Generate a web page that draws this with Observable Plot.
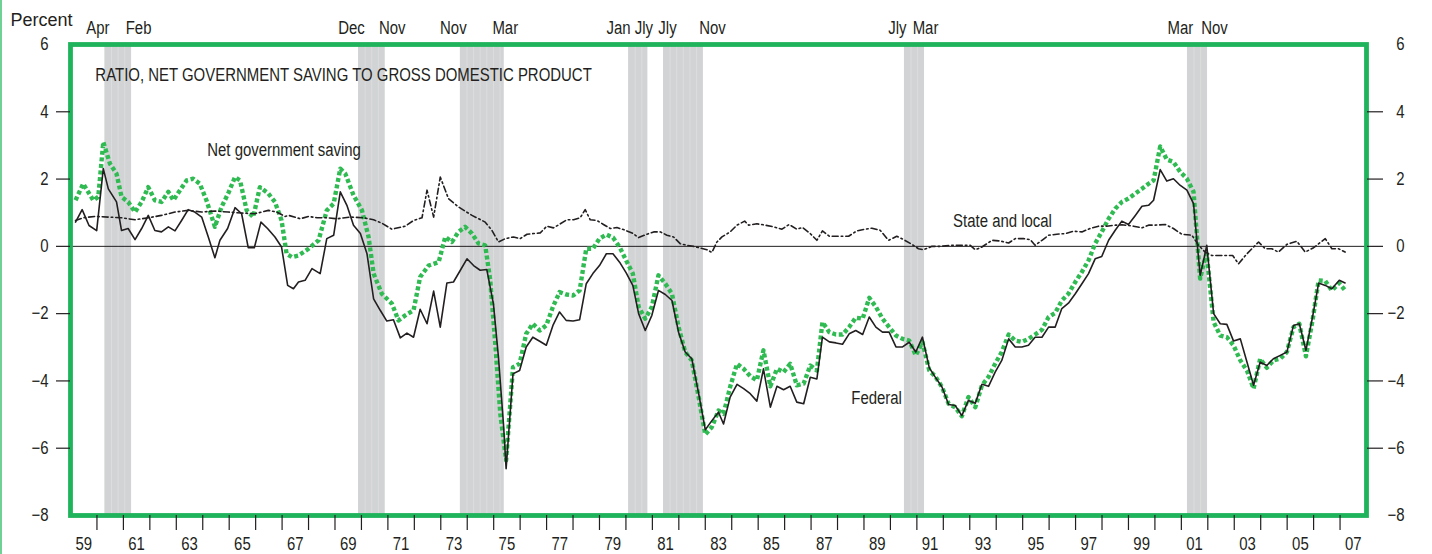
<!DOCTYPE html>
<html><head><meta charset="utf-8">
<script src="https://cdn.jsdelivr.net/npm/d3@7"></script>
<script src="https://cdn.jsdelivr.net/npm/@observablehq/plot@0.6"></script>
<style>
html,body{margin:0;padding:0;background:#fff;}
#wrap{position:relative;width:1432px;height:554px;overflow:hidden;}
#edge{position:absolute;left:0;top:0;width:2px;height:554px;background:#6fd193;z-index:2;}
</style></head>
<body><div id="wrap"><div id="edge"></div></div>
<script>
// ---- data (decimal years, percent of GDP) ----
const recessionStart = [1960.30, 1969.89, 1973.74, 1980.10, 1981.42, 1990.53, 2001.23];
const recessionEnd   = [1961.31, 1970.90, 1975.40, 1980.83, 1982.93, 1991.29, 2001.99];
const recessionFrom  = ["Apr", "Dec", "Nov", "Jan", "Jly", "Jly", "Mar"];
const recessionTo    = ["Feb", "Nov", "Mar", "Jly", "Nov", "Mar", "Nov"];

const yTickValues = [6, 4, 2, 0, -2, -4, -6, -8];
const yTickMarks = [4, 2, 0, -2, -4, -6];

const netSaving = [
[1959.19,1.37],[1959.48,1.86],[1959.86,1.37],[1960.05,1.47],[1960.24,3.10],[1960.49,2.46],[1960.74,2.16],[1960.93,1.47],
[1961.18,1.32],[1961.44,1.02],[1961.69,1.32],[1961.94,1.76],[1962.19,1.37],[1962.44,1.32],[1962.70,1.62],[1962.89,1.37],
[1963.14,1.67],[1963.39,1.96],[1963.64,2.01],[1963.89,1.86],[1964.14,1.37],[1964.46,0.58],[1964.71,1.17],[1964.96,1.57],
[1965.22,2.06],[1965.41,1.96],[1965.66,1.07],[1965.91,0.87],[1966.16,1.76],[1966.48,1.57],[1966.73,1.32],[1966.98,0.77],
[1967.17,-0.22],[1967.37,-0.32],[1967.62,-0.27],[1968.00,-0.07],[1968.38,0.18],[1968.69,1.07],[1968.95,1.27],[1969.20,2.31],
[1969.39,2.16],[1969.70,1.52],[1970.02,1.07],[1970.27,0.28],[1970.46,-0.81],[1970.77,-1.41],[1971.15,-1.70],[1971.40,-2.20],
[1971.66,-2.05],[1971.97,-1.90],[1972.22,-0.91],[1972.54,-0.57],[1972.92,-0.47],[1973.17,0.28],[1973.42,0.13],[1973.67,0.43],
[1973.92,0.58],[1974.18,0.38],[1974.43,0.08],[1974.68,0.03],[1974.87,-1.01],[1975.06,-2.89],[1975.25,-4.98],[1975.47,-6.36],
[1975.73,-3.59],[1975.98,-3.49],[1976.23,-2.60],[1976.48,-2.30],[1976.74,-2.50],[1976.99,-2.35],[1977.24,-1.80],[1977.49,-1.36],
[1977.74,-1.43],[1978.00,-1.46],[1978.25,-1.31],[1978.50,-0.07],[1978.75,-0.07],[1979.00,0.23],[1979.26,0.35],[1979.51,0.26],
[1979.76,-0.02],[1980.01,-0.42],[1980.26,-0.81],[1980.48,-1.80],[1980.73,-2.15],[1980.98,-1.80],[1981.23,-0.86],[1981.49,-1.11],
[1981.74,-1.41],[1981.99,-2.40],[1982.24,-3.14],[1982.49,-3.39],[1982.75,-4.48],[1983.00,-5.59],[1983.25,-5.37],[1983.50,-4.88],
[1983.69,-4.98],[1983.94,-4.18],[1984.20,-3.49],[1984.45,-3.64],[1984.70,-3.86],[1984.95,-3.98],[1985.20,-3.09],[1985.46,-4.16],
[1985.71,-3.64],[1985.96,-3.74],[1986.21,-3.49],[1986.46,-4.13],[1986.72,-4.08],[1986.97,-3.54],[1987.22,-3.69],[1987.43,-2.25],
[1987.69,-2.55],[1987.94,-2.62],[1988.19,-2.62],[1988.44,-2.40],[1988.69,-2.12],[1988.95,-2.15],[1989.20,-1.53],[1989.45,-1.80],
[1989.70,-2.15],[1989.95,-2.40],[1990.21,-2.65],[1990.46,-2.75],[1990.71,-2.80],[1990.96,-3.24],[1991.21,-2.84],[1991.47,-3.69],
[1991.69,-3.86],[1991.95,-4.18],[1992.20,-4.68],[1992.45,-4.78],[1992.70,-5.05],[1992.95,-4.48],[1993.21,-4.78],[1993.46,-4.13],
[1993.71,-3.88],[1993.96,-3.49],[1994.21,-3.14],[1994.47,-2.62],[1994.72,-2.80],[1994.97,-2.84],[1995.22,-2.75],[1995.47,-2.62],
[1995.73,-2.48],[1995.98,-2.10],[1996.23,-1.98],[1996.48,-1.61],[1996.73,-1.41],[1996.99,-1.06],[1997.24,-0.76],[1997.49,-0.42],
[1997.74,0.08],[1997.99,0.43],[1998.25,0.82],[1998.50,1.12],[1998.75,1.32],[1999.00,1.42],[1999.26,1.57],[1999.51,1.71],
[1999.76,1.86],[1999.95,1.96],[2000.20,2.97],[2000.45,2.58],[2000.70,2.51],[2000.96,2.21],[2001.21,2.01],[2001.46,1.62],
[2001.71,-0.96],[2001.84,-0.52],[2001.96,-0.22],[2002.22,-2.25],[2002.47,-2.65],[2002.72,-2.70],[2002.97,-2.94],[2003.23,-3.39],
[2003.48,-3.69],[2003.73,-4.23],[2003.98,-3.34],[2004.23,-3.61],[2004.48,-3.39],[2004.74,-3.34],[2004.99,-3.14],[2005.24,-2.40],
[2005.46,-2.30],[2005.71,-3.27],[2005.96,-2.20],[2006.19,-1.01],[2006.44,-1.03],[2006.69,-1.31],[2006.97,-1.09],[2007.19,-1.31]
];

const federal = [
[1959.19,0.72],[1959.44,1.09],[1959.70,0.62],[1959.99,0.47],[1960.24,2.31],[1960.43,1.71],[1960.74,1.32],[1960.93,0.47],
[1961.18,0.53],[1961.44,0.20],[1961.69,0.53],[1961.94,0.92],[1962.19,0.47],[1962.44,0.43],[1962.70,0.58],[1962.95,0.46],
[1963.20,0.77],[1963.45,1.09],[1963.70,1.02],[1963.96,0.87],[1964.21,0.28],[1964.46,-0.34],[1964.65,0.18],[1964.94,0.53],
[1965.22,1.15],[1965.47,0.97],[1965.72,-0.04],[1965.95,-0.04],[1966.20,0.72],[1966.45,0.53],[1966.73,0.28],[1966.98,-0.02],
[1967.21,-1.16],[1967.43,-1.26],[1967.62,-1.06],[1967.87,-1.01],[1968.13,-0.66],[1968.44,-0.81],[1968.69,0.23],[1968.95,0.33],
[1969.20,1.62],[1969.45,1.22],[1969.70,0.63],[1969.96,0.38],[1970.21,-0.22],[1970.46,-1.56],[1970.71,-1.90],[1970.96,-2.22],
[1971.21,-2.18],[1971.47,-2.72],[1971.72,-2.58],[1971.97,-2.70],[1972.22,-1.87],[1972.48,-2.30],[1972.73,-1.33],[1972.98,-2.40],
[1973.23,-1.09],[1973.48,-1.06],[1973.74,-0.71],[1973.99,-0.37],[1974.24,-0.57],[1974.49,-0.71],[1974.74,-0.69],[1974.99,-1.71],
[1975.18,-3.29],[1975.37,-5.28],[1975.47,-6.61],[1975.73,-3.79],[1975.98,-3.69],[1976.23,-2.99],[1976.48,-2.70],[1976.74,-2.82],
[1976.99,-2.94],[1977.24,-2.35],[1977.49,-1.95],[1977.74,-2.20],[1978.00,-2.22],[1978.25,-2.18],[1978.50,-1.11],[1978.75,-0.81],
[1979.00,-0.57],[1979.26,-0.22],[1979.51,-0.22],[1979.76,-0.47],[1980.01,-0.79],[1980.26,-1.16],[1980.48,-2.00],[1980.73,-2.50],
[1980.98,-2.05],[1981.23,-1.31],[1981.49,-1.43],[1981.74,-1.61],[1981.99,-2.55],[1982.24,-3.14],[1982.49,-3.34],[1982.75,-4.38],
[1983.00,-5.45],[1983.25,-5.18],[1983.50,-4.93],[1983.69,-5.28],[1983.94,-4.48],[1984.20,-4.10],[1984.45,-4.23],[1984.70,-4.38],
[1984.95,-4.60],[1985.20,-3.64],[1985.46,-4.78],[1985.71,-4.16],[1985.96,-4.26],[1986.21,-4.16],[1986.46,-4.63],[1986.72,-4.68],
[1986.97,-3.89],[1987.22,-3.94],[1987.43,-2.70],[1987.69,-2.84],[1987.94,-2.87],[1988.19,-2.91],[1988.44,-2.60],[1988.69,-2.50],
[1988.95,-2.62],[1989.20,-2.10],[1989.45,-2.40],[1989.70,-2.55],[1989.95,-2.55],[1990.21,-2.99],[1990.46,-2.99],[1990.71,-2.85],
[1990.96,-3.14],[1991.21,-2.70],[1991.47,-3.61],[1991.69,-3.88],[1991.95,-4.18],[1992.20,-4.70],[1992.45,-4.73],[1992.70,-5.03],
[1992.95,-4.58],[1993.21,-4.66],[1993.46,-4.10],[1993.71,-4.16],[1993.96,-3.74],[1994.21,-3.39],[1994.47,-2.75],[1994.72,-2.99],
[1994.97,-2.99],[1995.22,-2.94],[1995.47,-2.70],[1995.73,-2.70],[1995.98,-2.40],[1996.23,-2.40],[1996.48,-1.85],[1996.73,-1.69],
[1996.99,-1.41],[1997.24,-1.11],[1997.49,-0.81],[1997.74,-0.37],[1997.99,-0.30],[1998.25,0.18],[1998.50,0.48],[1998.75,0.75],
[1999.00,0.65],[1999.26,0.92],[1999.51,1.19],[1999.76,1.22],[1999.95,1.37],[2000.20,2.28],[2000.45,1.94],[2000.70,2.01],
[2000.96,1.81],[2001.21,1.67],[2001.46,1.27],[2001.71,-0.86],[2001.84,-0.42],[2001.96,0.03],[2002.22,-2.00],[2002.47,-2.30],
[2002.72,-2.32],[2002.97,-2.81],[2003.23,-2.75],[2003.48,-3.44],[2003.73,-4.13],[2003.98,-3.44],[2004.23,-3.54],[2004.48,-3.34],
[2004.74,-3.24],[2004.99,-3.14],[2005.24,-2.35],[2005.46,-2.30],[2005.71,-3.09],[2005.96,-2.10],[2006.19,-1.09],[2006.44,-1.16],
[2006.69,-1.26],[2006.97,-1.01],[2007.19,-1.09]
];

const stateLocal = [
[1959.19,0.77],[1959.48,0.85],[1959.92,0.89],[1960.43,0.87],[1960.93,0.85],[1961.44,0.79],[1961.94,0.85],[1962.44,0.92],
[1962.95,1.02],[1963.45,1.07],[1963.96,1.02],[1964.46,1.05],[1964.96,1.02],[1965.47,0.99],[1965.97,0.97],[1966.48,1.07],
[1966.79,1.02],[1967.11,0.89],[1967.25,0.92],[1967.69,0.82],[1968.00,0.89],[1968.32,0.85],[1968.69,0.85],[1969.07,0.82],
[1969.58,0.87],[1970.08,0.85],[1970.46,0.79],[1970.77,0.69],[1971.15,0.51],[1971.66,0.60],[1971.97,0.77],[1972.29,0.85],
[1972.48,1.67],[1972.73,0.87],[1972.98,2.06],[1973.29,1.42],[1973.67,1.17],[1974.18,0.92],[1974.68,0.72],[1974.93,0.48],
[1975.18,0.13],[1975.44,0.23],[1975.75,0.28],[1976.00,0.23],[1976.26,0.36],[1976.51,0.38],[1976.76,0.40],[1977.01,0.60],
[1977.26,0.55],[1977.52,0.67],[1977.77,0.79],[1978.02,0.79],[1978.27,0.85],[1978.46,1.09],[1978.65,0.79],[1978.90,0.77],
[1979.15,0.65],[1979.41,0.53],[1979.66,0.56],[1979.97,0.48],[1980.23,0.40],[1980.48,0.26],[1980.79,0.36],[1981.05,0.43],
[1981.30,0.43],[1981.55,0.33],[1981.80,0.28],[1982.05,0.08],[1982.31,0.03],[1982.56,0.00],[1982.81,-0.05],[1983.06,-0.10],
[1983.25,-0.18],[1983.44,0.13],[1983.63,0.28],[1983.94,0.43],[1984.20,0.63],[1984.49,0.75],[1984.64,0.63],[1984.95,0.67],
[1985.27,0.63],[1985.58,0.58],[1985.90,0.51],[1986.17,0.65],[1986.46,0.51],[1986.68,0.56],[1986.97,0.38],[1987.22,0.18],
[1987.43,0.46],[1987.69,0.30],[1987.98,0.30],[1988.42,0.30],[1988.73,0.46],[1988.98,0.50],[1989.30,0.54],[1989.61,0.48],
[1989.93,0.18],[1990.24,0.30],[1990.50,0.20],[1990.81,0.06],[1991.06,-0.07],[1991.25,-0.10],[1991.57,0.00],[1991.88,0.00],
[1992.26,0.03],[1992.77,0.03],[1993.02,0.03],[1993.21,-0.10],[1993.46,-0.02],[1993.84,0.18],[1994.15,0.16],[1994.47,0.10],
[1994.72,0.23],[1995.03,0.23],[1995.29,0.20],[1995.47,0.03],[1995.73,0.18],[1995.98,0.33],[1996.29,0.36],[1996.61,0.38],
[1996.92,0.45],[1997.24,0.43],[1997.55,0.53],[1997.87,0.60],[1998.18,0.60],[1998.50,0.63],[1998.75,0.64],[1999.00,0.62],
[1999.19,0.60],[1999.51,0.55],[1999.76,0.63],[2000.01,0.63],[2000.39,0.65],[2000.70,0.53],[2001.02,0.36],[2001.40,0.33],
[2001.65,0.03],[2001.90,-0.17],[2002.15,-0.27],[2002.53,-0.27],[2002.94,-0.27],[2003.16,-0.52],[2003.48,-0.22],[2003.92,0.13],
[2004.17,-0.07],[2004.42,-0.07],[2004.67,-0.17],[2004.99,0.06],[2005.37,0.15],[2005.68,-0.17],[2006.00,-0.04],[2006.44,0.23],
[2006.69,-0.07],[2006.94,-0.07],[2007.19,-0.17]
];

const annotations = [
  {text: "RATIO, NET GOVERNMENT SAVING TO GROSS DOMESTIC PRODUCT", year: 1959.94, value: 5.08},
  {text: "Net government saving", year: 1964.17, value: 2.85},
  {text: "State and local", year: 1992.37, value: 0.74},
  {text: "Federal", year: 1988.52, value: -4.52}
];

// ---- build ----
const toRows = arr => arr.map(([year, value]) => ({year, value}));
const bands = recessionStart.map((s, i) => ({start: s, end: recessionEnd[i], from: recessionFrom[i], to: recessionTo[i]}));
bands.forEach((b, i) => {
  b.tightAfter = i < bands.length - 1 && bands[i + 1].start - b.end < 1;
  b.tightBefore = i > 0 && b.start - bands[i - 1].end < 1;
});
const looseBands = bands.filter(b => !b.tightAfter && !b.tightBefore);
const looseWide = looseBands.filter(b => b.to !== "Mar");
const looseMar = looseBands.filter(b => b.to === "Mar");
const tightAfterBands = bands.filter(b => b.tightAfter);
const tightBeforeBands = bands.filter(b => b.tightBefore);
const stripes = bands.flatMap(b => d3.range(b.start + 0.25, b.end - 0.05, 0.25));
const tickYears = d3.range(1960, 2008);
const labelYears = d3.range(1959, 2008, 2).map(y => y + 0.5);

const FONT = '"Liberation Sans", Arial, Helvetica, sans-serif';
const INK = "#231f20";
const GREEN_FRAME = "#1fb35b";
const GREEN_LINE = "#2fba52";
const fmtY = d => d < 0 ? "\u2212" + Math.abs(d) : String(d);
const fmtX = d => String(Math.floor(d) % 100).padStart(2, "0");
const monthLabel = {frameAnchor: "top", lineAnchor: "middle", dy: -16, fontSize: 18, fill: INK};

const chart = Plot.plot({
  width: 1432, height: 554,
  marginLeft: 70, marginRight: 66, marginTop: 44, marginBottom: 39,
  x: {domain: [1959, 2008], label: null},
  y: {domain: [-8, 6], label: null},
  style: {fontFamily: FONT, fontSize: "18px", color: INK, background: "#fff", overflow: "visible"},
  marks: [
    Plot.rect(bands, {x1: "start", x2: "end", fill: "#d1d3d4"}),
    Plot.ruleX(stripes, {stroke: "#dcdddf", strokeWidth: 1}),
    Plot.ruleY([0], {stroke: INK, strokeWidth: 1}),
    Plot.line(toRows(netSaving), {x: "year", y: "value", stroke: GREEN_LINE, strokeWidth: 4.4, strokeDasharray: "4 2.6", strokeLinecap: "butt", strokeLinejoin: "round"}),
    Plot.line(toRows(federal), {x: "year", y: "value", stroke: INK, strokeWidth: 1.6}),
    Plot.line(toRows(stateLocal), {x: "year", y: "value", stroke: INK, strokeWidth: 1.6, strokeDasharray: "6 3 1.6 3"}),
    Plot.frame({stroke: GREEN_FRAME, strokeWidth: 4.8}),
    // axes
    Plot.axisX({ticks: tickYears, tickSize: 15, tickFormat: () => "", stroke: INK, strokeWidth: 1.2, label: null}),
    Plot.axisX({ticks: labelYears, tickSize: 0, tickPadding: 22, tickFormat: fmtX, fontSize: 18, fill: INK, label: null}),
    Plot.axisY({anchor: "left", ticks: yTickMarks, tickSize: 14, tickFormat: () => "", stroke: INK, strokeWidth: 1.2, label: null}),
    Plot.axisY({anchor: "left", ticks: yTickValues, tickSize: 0, tickPadding: 22, tickFormat: fmtY, fontSize: 18, fill: INK, label: null}),
    Plot.axisY({anchor: "right", ticks: yTickMarks, tickSize: 16, tickFormat: () => "", stroke: INK, strokeWidth: 1.2, label: null}),
    Plot.axisY({anchor: "right", ticks: yTickValues, tickSize: 0, tickPadding: 38, textAnchor: "end", tickFormat: fmtY, fontSize: 18, fill: INK, label: null}),
    // recession month labels
    Plot.text(looseBands, {...monthLabel, x: "start", text: "from", dx: -7}),
    Plot.text(looseWide, {...monthLabel, x: "end", text: "to", dx: 7}),
    Plot.text(looseMar, {...monthLabel, x: "end", text: "to", dx: 1}),
    Plot.text(tightAfterBands, {...monthLabel, x: "start", text: "from", dx: -10}),
    Plot.text(tightAfterBands, {...monthLabel, x: "end", text: "to", dx: -4}),
    Plot.text(tightBeforeBands, {...monthLabel, x: "start", text: "from", dx: 4}),
    Plot.text(tightBeforeBands, {...monthLabel, x: "end", text: "to", dx: 9}),
    // annotations
    Plot.text(annotations, {x: "year", y: "value", text: "text", textAnchor: "start", fontSize: 18, fill: INK}),
    Plot.text(["Percent"], {frameAnchor: "top-left", lineAnchor: "middle", text: d => d, textAnchor: "start", dx: -60, dy: -24, fontSize: 18, fill: INK})
  ]
});
document.getElementById("wrap").appendChild(chart);

// condensed type: shrink each label's advance width, keeping its anchor (except "Percent")
chart.querySelectorAll("text").forEach(t => {
  if (t.textContent === "Percent" || t.textContent === "") return;
  const len = t.getComputedTextLength();
  if (len > 0) {
    t.setAttribute("textLength", (len * 0.83).toFixed(2));
    t.setAttribute("lengthAdjust", "spacingAndGlyphs");
  }
});
</script>
</body></html>
